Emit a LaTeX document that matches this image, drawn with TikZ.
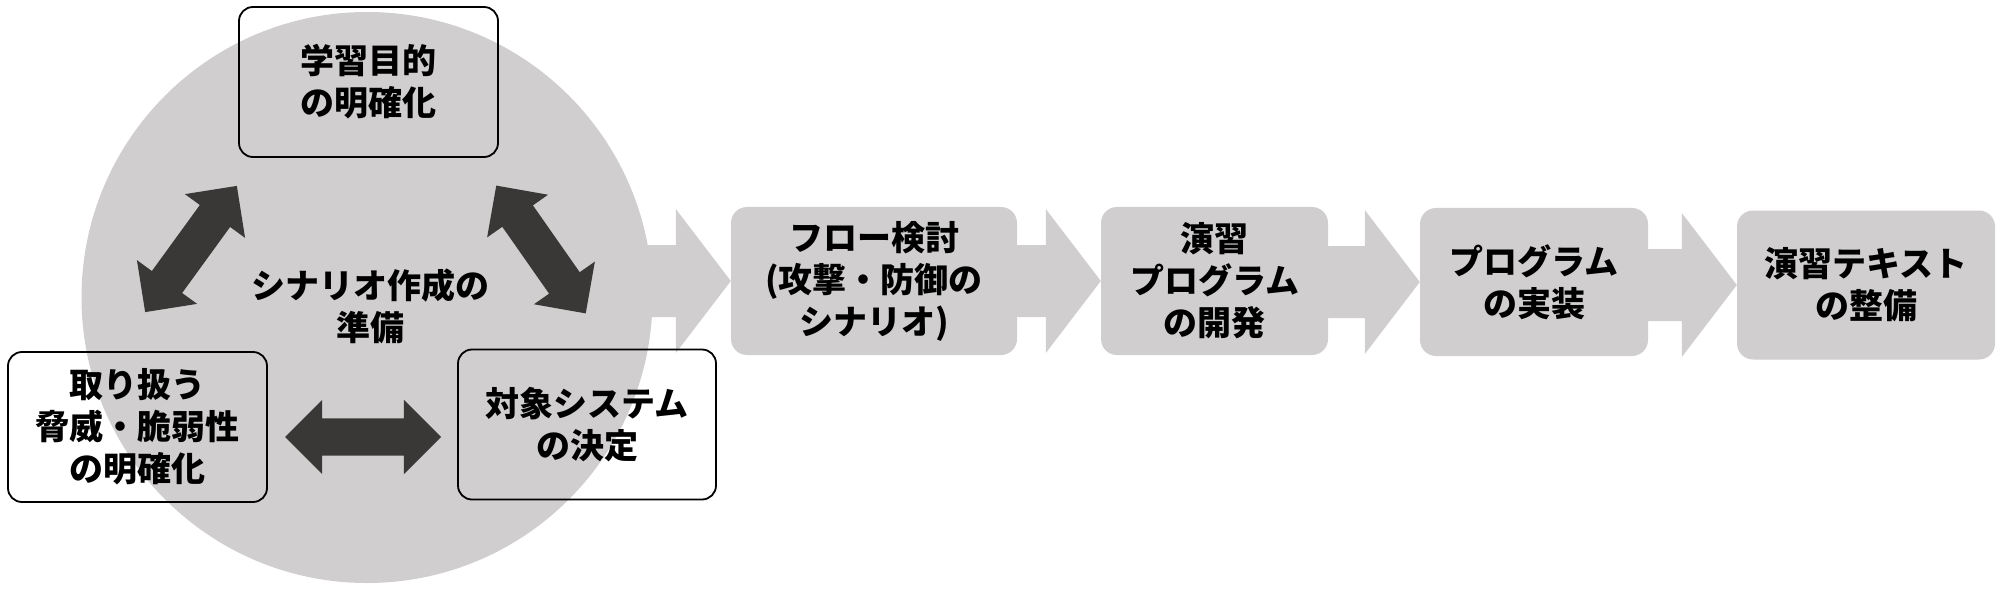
\documentclass[tikz,border=0pt]{standalone}
\usepackage{fontspec}
\setmainfont{Noto Sans CJK JP}
\usepackage{xcolor}
\usepackage{tikz}
\usetikzlibrary{shapes.arrows, calc, backgrounds, positioning}

\definecolor{panelgray}{RGB}{208,206,207}
\definecolor{arrowdark}{RGB}{58,56,55}

% block arrow from one stage to the next
\newcommand{\chevron}[3]{%
  \fill[flow] ($(#1.east |- #2.west)+(#3,-36)$) -- ($(#2.west)+(-55,-36)$) -- ($(#2.west)+(-55,-72)$)
    -- (#2.west) -- ($(#2.west)+(-55,72)$) -- ($(#2.west)+(-55,36)$) -- ($(#1.east |- #2.west)+(#3,36)$) -- cycle;}

\begin{document}
\begin{tikzpicture}[
    x=1pt, y=-1pt,
    font=\fontsize{34}{42}\selectfont\bfseries,
    prep/.style={circle, fill=panelgray, minimum size=571, inner sep=0},
    item/.style={rectangle, rounded corners=14pt, draw=black, line width=1.8pt, minimum width=259, minimum height=150, align=center, inner sep=0},
    stage/.style={rectangle, rounded corners=16pt, fill=panelgray, minimum height=148, align=center, inner sep=0},
    link/.style={double arrow, fill=arrowdark, minimum height=156, inner xsep=0, inner ysep=18.5, double arrow head extend=18.5},
    flow/.style={fill=panelgray}
  ]
    \useasboundingbox (0,0) rectangle (2004,596);

    \node[prep] (prep) at (367,297.5) {};
    \node[align=center] (preptext) at (370,306) {シナリオ作成の\\準備};

    \node[item] (goal) at (368.5,82) {学習目的\\の明確化};
    \node[item] (threat) at (137.5,427) {取り扱う\\脅威・脆弱性\\の明確化};
    \node[item, minimum width=258] (target) at (587,424.5) {対象システム\\の決定};

    \node[link, rotate=54] (l_goal) at (191,249) {};
    \node[link, rotate=-55] (r_goal) at (541,249.5) {};
    \node[link] (bottom) at (363,437) {};

    \node[stage, minimum width=286] (s1) at (874,281) {フロー検討\\(攻撃・防御の\\シナリオ)};
    \node[stage, minimum width=227] (s2) at (1214.5,281) {演習\\プログラム\\の開発};
    \node[stage, minimum width=228] (s3) at (1534,282) {プログラム\\の実装};
    \node[stage, minimum width=258, minimum height=149] (s4) at (1866,285) {演習テキスト\\の整備};

    % Flow transitions
    \begin{scope}[on background layer]
      \chevron{prep}{s1}{-30}
      \chevron{s1}{s2}{-10}
      \chevron{s2}{s3}{-10}
      \chevron{s3}{s4}{-10}
    \end{scope}

  \end{tikzpicture}
\end{document}
